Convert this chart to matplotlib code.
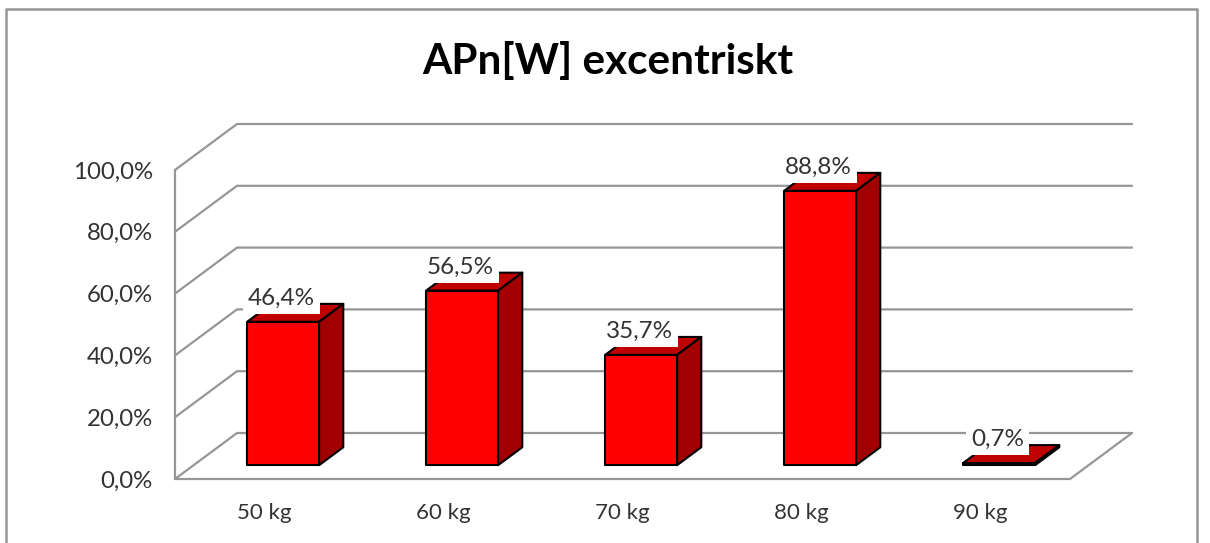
import matplotlib
matplotlib.use('Agg')
import matplotlib.pyplot as plt
from matplotlib.lines import Line2D
from matplotlib.patches import Polygon

categories = ['50 kg', '60 kg', '70 kg', '80 kg', '90 kg']
values = [46.4, 56.5, 35.7, 88.8, 0.7]
value_labels = ['46,4%', '56,5%', '35,7%', '88,8%', '0,7%']
y_ticks = [0, 20, 40, 60, 80, 100]
y_tick_labels = ['0,0%', '20,0%', '40,0%', '60,0%', '80,0%', '100,0%']
title = 'APn[W] excentriskt'

plt.rcParams['font.family'] = ['Lato', 'DejaVu Sans']

W, H = 1210, 543
GRID = '#969696'
TEXT = '#333333'

# front plane of the fake 3d box, in pixels
LEFT, RIGHT, BOTTOM, TOP = 175, 1070, 479, 170
PX_X = (RIGHT - LEFT) / len(categories)
PX_Y = (BOTTOM - TOP) / 100
DEPTH_X = 62 / PX_X
DEPTH_Y = 46 / PX_Y
BAR_W = 72 / PX_X


def project(x, y, d):
    """Move a data point back by depth d (0 front wall, 1 back wall)."""
    return x + d * DEPTH_X, y + d * DEPTH_Y


def draw_bar(ax, center, value):
    d0, d1 = 0.30, 0.69
    x0, x1 = center - BAR_W / 2, center + BAR_W / 2
    style = dict(edgecolor='black', linewidth=1.5, joinstyle='round', zorder=3)
    top = [project(x0, value, d0), project(x1, value, d0),
           project(x1, value, d1), project(x0, value, d1)]
    side = [project(x1, 0, d0), project(x1, 0, d1),
            project(x1, value, d1), project(x1, value, d0)]
    front = [project(x0, 0, d0), project(x1, 0, d0),
             project(x1, value, d0), project(x0, value, d0)]
    ax.add_patch(Polygon(top, facecolor='#C00000', clip_on=False, **style))
    ax.add_patch(Polygon(side, facecolor='#A00000', clip_on=False, **style))
    ax.add_patch(Polygon(front, facecolor='#FF0000', clip_on=False, **style))


fig = plt.figure(figsize=(W / 100, H / 100), dpi=100, facecolor='white')
ax = fig.add_axes([LEFT / W, 1 - BOTTOM / H, (RIGHT - LEFT) / W, (BOTTOM - TOP) / H])
ax.set_xlim(0, len(categories))
ax.set_ylim(0, 100)
ax.patch.set_visible(False)
for spine in ax.spines.values():
    spine.set_visible(False)

# walls and gridlines
line = dict(color=GRID, linewidth=1.6, clip_on=False, zorder=1, solid_capstyle='round')
for t in y_ticks:
    bx, by = project(0, t, 1)
    ex, ey = project(len(categories), t, 1)
    ax.plot([0, bx, ex], [t, by, ey], **line)
ax.plot([0, 0], [0, 100], **line)
ax.plot([0, len(categories), project(len(categories), 0, 1)[0]],
        [0, 0, project(len(categories), 0, 1)[1]], **line)

centers = [i + 0.5 for i in range(len(categories))]
for c, v in zip(centers, values):
    draw_bar(ax, c, v)

for c, v, lab in zip(centers, values, value_labels):
    x, y = project(c, v, 0.30)
    ax.annotate(lab, (x, y), xytext=(-1, 16.7), textcoords='offset points',
                ha='center', va='center', fontsize=17.5, color=TEXT, zorder=4,
                bbox=dict(facecolor='white', edgecolor='none', pad=3.5))

ax.set_yticks(y_ticks)
ax.set_yticklabels(y_tick_labels, fontsize=17.3, color=TEXT)
ax.set_xticks(centers)
ax.set_xticklabels(categories, fontsize=16, color=TEXT)
ax.tick_params(axis='y', length=0, pad=16)
ax.tick_params(axis='x', length=0, pad=17)

fig.text(608 / W, 1 - 61.5 / H, title, fontsize=30.4, fontweight='bold',
         color='black', ha='center', va='center')

# chart border, its bottom edge runs off the picture
fig.add_artist(Line2D([6 / W, 6 / W, 1197 / W, 1197 / W],
                      [0, 1 - 9 / H, 1 - 9 / H, 0],
                      color=GRID, linewidth=1.8))

fig.savefig('out.png', dpi=100)
